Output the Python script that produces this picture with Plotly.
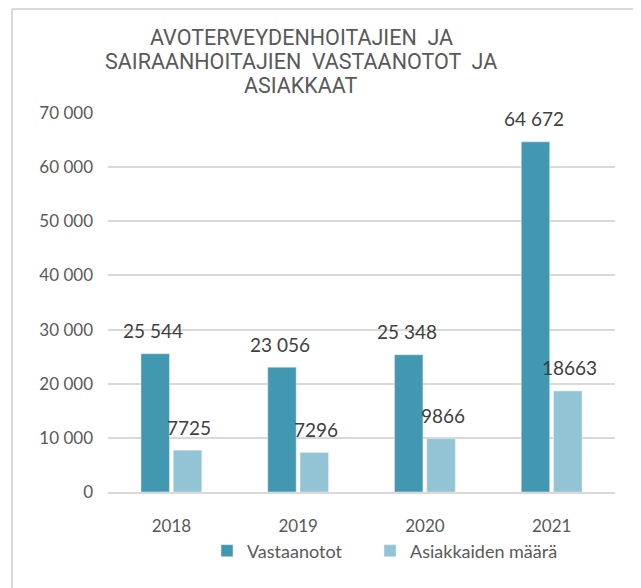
import plotly.graph_objects as go

years = ["2018", "2019", "2020", "2021"]
vastaanotot = [25544, 23056, 25348, 64672]
asiakkaat = [7725, 7296, 9866, 18663]
series_names = ["Vastaanotot", "Asiakkaiden määrä"]
y_ticks = [0, 10000, 20000, 30000, 40000, 50000, 60000, 70000]
y_tick_labels = ["0", "10 000", "20 000", "30 000", "40 000", "50 000", "60 000", "70 000"]
title_lines = ["AVOTERVEYDENHOITAJIEN  JA", "SAIRAANHOITAJIEN  VASTAANOTOT  JA", "ASIAKKAAT"]

dark = "#4398b1"
light = "#93c4d6"
txt = "#595959"
grid = "#d9d9d9"
num_font = "Lato"
title_font = "Roboto"

OFF = 8  # page body margin
fig = go.Figure()
fig.add_trace(go.Bar(x=years, y=vastaanotot, name=series_names[0], marker_color=dark,
                     legend="legend"))
fig.add_trace(go.Bar(x=years, y=asiakkaat, name=series_names[1], marker_color=light,
                     legend="legend2"))

W, H = 641 - OFF, 588 - OFF
L, R, T, B = 108 - OFF, 615 - OFF, 113 - OFF, 492 - OFF
pw, ph = R - L, B - T

annotations = []
for i, v in enumerate(vastaanotot):
    annotations.append(dict(x=i, y=v, xref="x", yref="y", text=f"{v:,}".replace(",", " "),
                            showarrow=False, xshift=-18, yshift=23, yanchor="middle",
                            font=dict(family=num_font, size=19, color="#404040")))
for i, v in enumerate(asiakkaat):
    annotations.append(dict(x=i, y=v, xref="x", yref="y", text=str(v),
                            showarrow=False, xshift=18, yshift=23, yanchor="middle",
                            font=dict(family=num_font, size=19, color="#404040")))

title_centers = [37, 61, 85]
for line, yc in zip(title_lines, title_centers):
    annotations.append(dict(x=(301 - OFF - L) / pw, y=(B - (yc - OFF)) / ph,
                            xref="paper", yref="paper", text=line, showarrow=False,
                            xanchor="center", yanchor="middle",
                            font=dict(family=title_font, size=21.5, color=txt)))

legend_common = dict(orientation="h", xanchor="left", yanchor="middle",
                     y=(B - (551 - OFF)) / ph,
                     font=dict(family=num_font, size=18, color=txt),
                     bgcolor="rgba(0,0,0,0)")

fig.update_layout(
    width=W, height=H,
    margin=dict(l=L, r=W - R, t=T, b=H - B),
    paper_bgcolor="white", plot_bgcolor="white",
    barmode="group", bargap=0.49, bargroupgap=0.12,
    xaxis=dict(type="category", categoryorder="array", categoryarray=years,
               range=[-0.5, len(years) - 0.5],
               showgrid=False, showline=True, linecolor=grid, linewidth=2,
               ticks="", tickfont=dict(family=num_font, size=17, color=txt),
               ticklabelstandoff=18),
    yaxis=dict(range=[0, 70000], tickvals=y_ticks, ticktext=y_tick_labels,
               showgrid=True, gridcolor=grid, gridwidth=1.5, zeroline=False,
               showline=False, ticks="",
               tickfont=dict(family=num_font, size=17, color=txt),
               ticklabelstandoff=14),
    legend=dict(x=(207 - OFF - L) / pw, **legend_common),
    legend2=dict(x=(370 - OFF - L) / pw, **legend_common),
    annotations=annotations,
    shapes=[
        dict(type="line", xref="paper", yref="paper",
             x0=(12 - OFF - L) / pw, x1=(12 - OFF - L) / pw,
             y0=(B - H - 5) / ph, y1=(B - (9 - OFF)) / ph,
             line=dict(color=grid, width=2), layer="above"),
        dict(type="line", xref="paper", yref="paper",
             x0=(12 - OFF - L) / pw, x1=(W + 5 - L) / pw,
             y0=(B - (9 - OFF)) / ph, y1=(B - (9 - OFF)) / ph,
             line=dict(color=grid, width=2), layer="above"),
    ],
    showlegend=True,
)

fig.write_html("out.html")
